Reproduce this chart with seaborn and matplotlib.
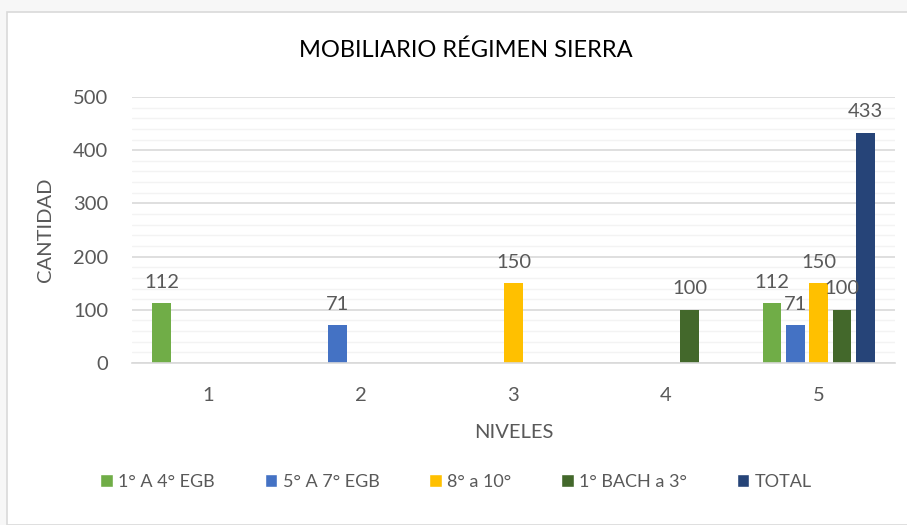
import matplotlib
matplotlib.use("Agg")
import matplotlib.pyplot as plt
from matplotlib.patches import Rectangle
from matplotlib.ticker import MultipleLocator
import seaborn as sns
import pandas as pd

# Chart data.
niveles = ["1", "2", "3", "4", "5"]
series = ["1° A 4° EGB", "5° A 7° EGB", "8° a 10°", "1° BACH a 3°", "TOTAL"]
egb_1_4 = [112, 0, 0, 0, 112]
egb_5_7 = [0, 71, 0, 0, 71]
egb_8_10 = [0, 0, 150, 0, 150]
bach_1_3 = [0, 0, 0, 100, 100]
total = [0, 0, 0, 0, 433]
colors = ["#70AD47", "#4472C4", "#FFC000", "#43682B", "#264478"]

values = [egb_1_4, egb_5_7, egb_8_10, bach_1_3, total]
rows = []
for name, vals in zip(series, values):
    for nivel, v in zip(niveles, vals):
        rows.append({"NIVELES": nivel, "serie": name, "CANTIDAD": v})
df = pd.DataFrame(rows)

sns.set_theme(style="white")
plt.rcParams["font.family"] = ["Lato", "DejaVu Sans"]
text_color = "#595959"

fig = plt.figure(figsize=(9.07, 5.25), dpi=100)
fig.patch.set_facecolor("#f7f7f7")
fig.patches.append(Rectangle((7 / 907, 0), 1, 1 - 12 / 525, transform=fig.transFigure,
                             facecolor="white", edgecolor="#d9d9d9", linewidth=1.2, zorder=-1))
ax = fig.add_axes([132 / 907, 1 - 363 / 525, 763 / 907, 266 / 525])
ax.set_facecolor("none")

sns.barplot(data=df, x="NIVELES", y="CANTIDAD", hue="serie", hue_order=series,
            palette=colors, width=0.765, gap=0.2, saturation=1, linewidth=0,
            ax=ax, legend=False)

for container, vals in zip(ax.containers, values):
    labels = [str(v) if v else "" for v in vals]
    ax.bar_label(container, labels=labels, padding=9, fontsize=14.5, color=text_color)

ax.set_ylim(0, 500)
ax.set_xlim(-0.5, 4.5)
ax.yaxis.set_major_locator(MultipleLocator(100))
ax.yaxis.set_minor_locator(MultipleLocator(20))
ax.grid(which="major", axis="y", color="#d9d9d9", linewidth=1.2)
ax.grid(which="minor", axis="y", color="#f3f3f3", linewidth=1.0)
ax.set_axisbelow(True)
for side in ["top", "right", "left"]:
    ax.spines[side].set_visible(False)
ax.spines["bottom"].set_color("#d9d9d9")
ax.spines["bottom"].set_linewidth(1.2)
ax.tick_params(axis="both", length=0, labelsize=14.5, labelcolor=text_color)
ax.tick_params(axis="x", pad=17)
ax.tick_params(axis="y", pad=17)

ax.set_xlabel("NIVELES", fontsize=14.5, color=text_color, labelpad=15)
ax.set_ylabel("CANTIDAD", fontsize=14.5, color=text_color, labelpad=14)

fig.text(466 / 907, 1 - 50 / 525, "MOBILIARIO RÉGIMEN SIERRA",
         ha="center", va="center", fontsize=17, color="black")

handles = [Rectangle((0, 0), 1, 1, facecolor=c) for c in colors]
fig.legend(handles, series, loc="center", bbox_to_anchor=(456 / 907, 1 - 482 / 525), ncol=5,
           frameon=False, fontsize=13, labelcolor=text_color,
           handlelength=0.7, handleheight=0.7, handletextpad=0.3, columnspacing=2.75)

fig.savefig("out.png", dpi=100, facecolor=fig.get_facecolor())
